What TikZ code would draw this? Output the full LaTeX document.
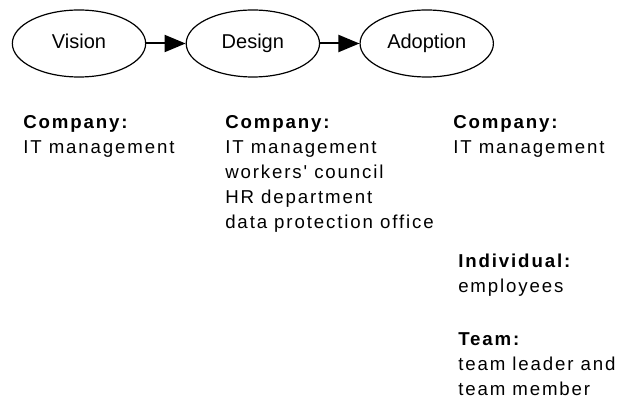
\documentclass[tikz,border=0pt]{standalone}
\usepackage{fontspec}
\setmainfont{Liberation Sans}
\newfontfamily\rolefont[LetterSpace=10]{Liberation Sans}
\usetikzlibrary{shapes.geometric,arrows.meta,positioning}

\begin{document}
\begin{tikzpicture}[x=0.75pt,y=-0.75pt,
    phase/.style={draw, ellipse, line width=0.9pt, minimum width=100pt,
        minimum height=50.25pt, inner sep=0pt, text height=11pt, text depth=3pt,
        font=\fontsize{15}{17}\selectfont},
    flow/.style={line width=1.5pt, -{Triangle[length=15.75pt,width=12.75pt]}},
    role/.style={anchor=north west, inner sep=0pt, align=left,
        font=\rolefont\fontsize{14}{18.75}\selectfont}]

\useasboundingbox (0,0) rectangle (625,402);

% the three phases
\node [phase] (vision) at (79,43.5) {Vision};
\node [phase, right=29.5pt of vision] (design) {Design};
\node [phase, right=29.5pt of design] (adoption) {Adoption};

\draw [flow] (vision) -- (design);
\draw [flow] (design) -- (adoption);

% who takes part in each phase
\node [role] (visionco) at (23,115) {\textbf{Company:}\\IT management};
\node [role] (designco) at (225,115) {\textbf{Company:}\\IT management\\workers' council\\HR department\\data protection office};
\node [role] (adoptco) at (453,115) {\textbf{Company:}\\IT management};
\node [role] (adoptind) at (458,254) {\textbf{Individual:}\\employees};
\node [role] (adoptteam) at (458,332) {\textbf{Team:}\\team leader and\\team member};

\end{tikzpicture}
\end{document}
